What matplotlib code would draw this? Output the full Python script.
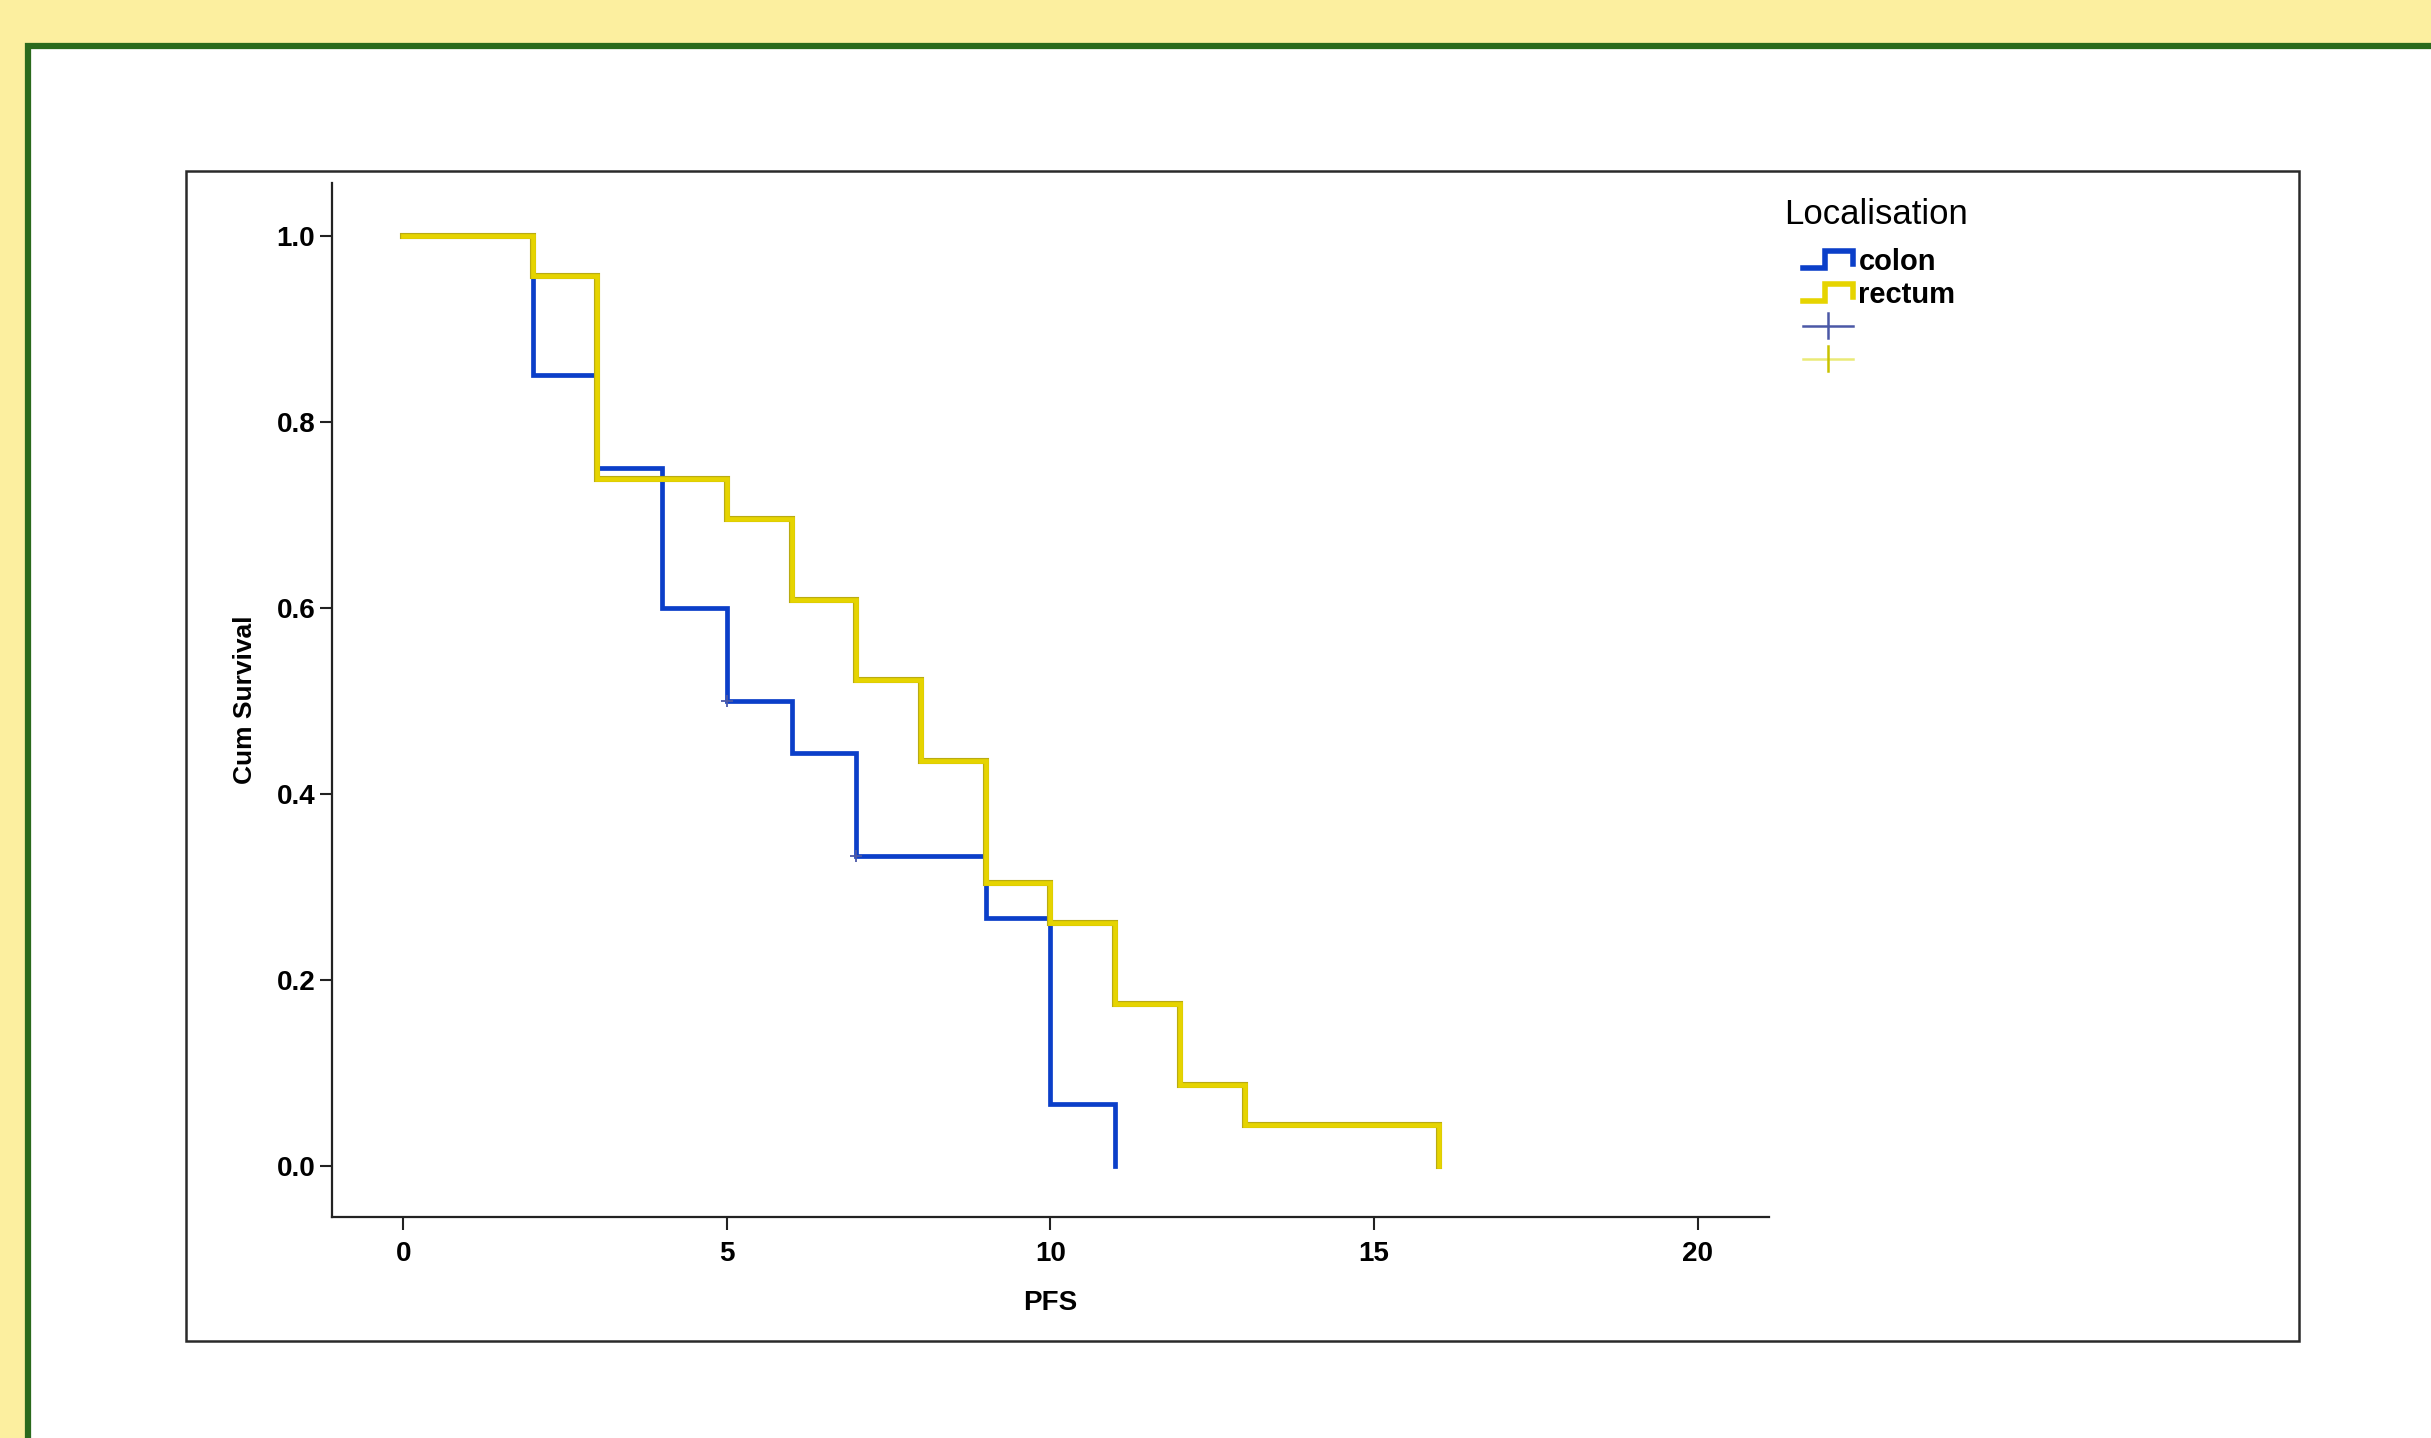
import matplotlib
matplotlib.use('Agg')
import matplotlib.pyplot as plt
import matplotlib.patheffects as pe
from matplotlib.patches import Rectangle
from matplotlib.lines import Line2D
from matplotlib.legend_handler import HandlerBase

# ── Data: Kaplan-Meier PFS by localisation ──────────────────────────────────
colon_t = [0, 2, 3, 4, 5, 6, 7, 9, 10, 11]
colon_s = [1.0, 0.85, 0.75, 0.60, 0.50, 0.444, 0.333, 0.267, 0.0667, 0.0]
colon_cens_t = [5, 7]
colon_cens_s = [0.50, 0.333]

rectum_t = [0, 2, 3, 5, 6, 7, 8, 9, 10, 11, 12, 13, 16]
rectum_s = [1.0, 0.957, 0.739, 0.696, 0.609, 0.522, 0.435, 0.304, 0.261,
            0.174, 0.087, 0.0435, 0.0]

x_ticks = [0, 5, 10, 15, 20]
y_ticks = [0.0, 0.2, 0.4, 0.6, 0.8, 1.0]
y_ticklabels = ['0.0', '0.2', '0.4', '0.6', '0.8', '1.0']

BLUE = '#0b3fc9'
YELLOW = '#e6d400'
YELLOW_EDGE = '#b9ab12'
CENS_BLUE = '#4b58a6'
CENS_YELLOW = '#eaea78'
GREEN = '#2a6a1c'
BG = '#fcef9f'
NARROW = ['Liberation Sans Narrow', 'Liberation Sans']

W, H = 2431, 1438
fig = plt.figure(figsize=(W / 100, H / 100), dpi=100, facecolor=BG)

# white slide panel with green top/left border
fig.add_artist(Rectangle((28 / W, -0.05), 1.1, 1 - 46 / H + 0.05,
                         transform=fig.transFigure, facecolor='white',
                         edgecolor=GREEN, linewidth=4.5, zorder=0))
# chart frame
fig.add_artist(Rectangle((186 / W, 1 - 1341 / H), (2299 - 186) / W,
                         (1341 - 171) / H, transform=fig.transFigure,
                         facecolor='white', edgecolor='#2a2a2a',
                         linewidth=1.8, zorder=0.5))

ax = fig.add_axes([332 / W, 1 - 1217 / H, (1769 - 332) / W, (1217 - 183) / H])
ax.set_zorder(2)
ax.set_facecolor('none')

ax.step(colon_t, colon_s, where='post', color=BLUE, linewidth=3.4,
        solid_joinstyle='miter', zorder=2)
ax.plot(colon_cens_t, colon_cens_s, linestyle='none', marker='+',
        markersize=9, markeredgewidth=1.3, color=CENS_BLUE, zorder=4)
ax.step(rectum_t, rectum_s, where='post', color=YELLOW, linewidth=3.4,
        solid_joinstyle='miter', zorder=3,
        path_effects=[pe.Stroke(linewidth=4.4, foreground=YELLOW_EDGE),
                      pe.Normal()])

ax.set_xlim(-1.1, 21.1)
ax.set_ylim(-0.055, 1.057)
ax.set_xticks(x_ticks)
ax.set_yticks(y_ticks)
ax.set_yticklabels(y_ticklabels)
for lab in ax.get_xticklabels() + ax.get_yticklabels():
    lab.set_family(NARROW)
    lab.set_fontweight('bold')
    lab.set_fontsize(20)
ax.tick_params(axis='both', direction='out', length=9, width=1.5,
               color='#222222')
ax.tick_params(axis='x', pad=8)
ax.tick_params(axis='y', pad=3)

for s in ('top', 'right'):
    ax.spines[s].set_visible(False)
for s in ('left', 'bottom'):
    ax.spines[s].set_linewidth(1.6)
    ax.spines[s].set_color('#222222')

ax.set_xlabel('PFS', fontsize=20, fontweight='bold', family=NARROW,
              labelpad=17)
ax.set_ylabel('Cum Survival', fontsize=19, fontweight='bold',
              family='Liberation Sans', labelpad=14)


# ── Legend with step-shaped and censor handles ───────────────────────────────
class StepHandler(HandlerBase):
    def create_artists(self, legend, orig, xd, yd, w, h, fontsize, trans):
        x0, y0 = -xd, -yd
        xs = [x0, x0 + 0.45 * w, x0 + 0.45 * w, x0 + w, x0 + w]
        ys = [y0 + 0.1 * h, y0 + 0.1 * h, y0 + 0.95 * h, y0 + 0.95 * h,
              y0 + 0.3 * h]
        ln = Line2D(xs, ys, color=orig.get_color(), lw=4,
                    solid_joinstyle='miter', transform=trans)
        return [ln]


class CensorHandler(HandlerBase):
    def create_artists(self, legend, orig, xd, yd, w, h, fontsize, trans):
        x0, y0 = -xd, -yd
        cy = y0 + 0.5 * h
        hz = Line2D([x0, x0 + w], [cy, cy], color=orig.get_color(), lw=1.8,
                    transform=trans)
        vt = Line2D([x0 + 0.5 * w] * 2, [cy - 0.6 * h, cy + 0.6 * h],
                    color=orig.get_markeredgecolor(), lw=1.8,
                    transform=trans)
        return [hz, vt]


h_colon = Line2D([], [], color=BLUE)
h_rectum = Line2D([], [], color=YELLOW)
h_c1 = Line2D([], [], color=CENS_BLUE, markeredgecolor=CENS_BLUE)
h_c2 = Line2D([], [], color=CENS_YELLOW, markeredgecolor='#c9c200')

fig.text(1784 / W, 1 - 198 / H, 'Localisation', fontsize=25,
         family='Liberation Sans', va='top', ha='left')
leg = fig.legend(handles=[h_colon, h_rectum, h_c1, h_c2],
                 labels=['colon', 'rectum', '', ''],
                 handler_map={h_colon: StepHandler(), h_rectum: StepHandler(),
                              h_c1: CensorHandler(), h_c2: CensorHandler()},
                 loc='upper left', bbox_to_anchor=(1803 / W, 1 - 248 / H),
                 frameon=False, handlelength=1.7, handletextpad=0.2,
                 labelspacing=0.17, borderpad=0, borderaxespad=0,
                 prop={'family': 'Liberation Sans', 'weight': 'bold',
                       'size': 21})

fig.savefig('out.png', dpi=100, facecolor=BG)
